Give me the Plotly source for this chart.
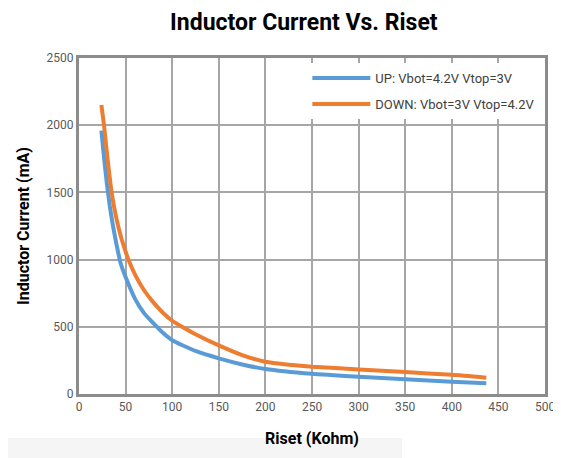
import plotly.graph_objects as go

# Riset (Kohm) and inductor current (mA)
riset_up = [24, 27, 30, 33, 36, 40, 45, 50, 60, 70, 80, 90, 100, 125, 150, 175, 200, 250, 300, 350, 400, 437]
current_up = [1960, 1750, 1560, 1400, 1270, 1120, 965, 870, 710, 600, 525, 455, 400, 320, 265, 220, 186, 150, 128, 109, 92, 80]

riset_down = [24, 27, 30, 35, 40, 45, 50, 53, 60, 70, 80, 90, 100, 112, 125, 150, 175, 200, 225, 250, 300, 350, 400, 437]
current_down = [2150, 1990, 1790, 1500, 1310, 1170, 1060, 1000, 890, 770, 680, 605, 545, 495, 445, 362, 290, 240, 218, 203, 183, 163, 143, 121]

series_names = ["UP: Vbot=4.2V Vtop=3V", "DOWN: Vbot=3V Vtop=4.2V"]
series_colors = ["#5b9bd5", "#ed7d31"]

FONT = "Roboto, Liberation Sans, sans-serif"

fig = go.Figure()
fig.add_trace(go.Scatter(
    x=riset_up, y=current_up, mode="lines", name=series_names[0], legendgroup="up",
    line=dict(color=series_colors[0], width=4, shape="spline", smoothing=0.5)
))
fig.add_trace(go.Scatter(
    x=riset_down, y=current_down, mode="lines", name=series_names[1], legendgroup="down",
    line=dict(color=series_colors[1], width=4, shape="spline", smoothing=0.5)
))

# faint grey band along the bottom edge of the screenshot
fig.add_shape(type="rect", xref="paper", yref="paper",
              x0=-79 / 466, x1=323 / 466, y0=-70 / 336, y1=-44 / 336,
              fillcolor="#f5f5f5", line=dict(width=0), layer="below")

# page body adds 8px, so the figure is 8px smaller than the window
fig.update_layout(
    width=553, height=450,
    margin=dict(l=71, r=16, t=50, b=64),
    paper_bgcolor="white", plot_bgcolor="white",
    font=dict(family=FONT, color="#595959", size=12),
    title=dict(text="<b>Inductor Current Vs. Riset</b>", x=0.535, xanchor="center",
               y=(450 - 14) / 450, yanchor="middle", yref="container",
               font=dict(family=FONT, size=23, color="black")),
    legend=dict(x=0.99, y=0.985, xanchor="right", yanchor="top",
                bgcolor="white", borderwidth=0,
                font=dict(family=FONT, size=13, color="#404040"),
                itemwidth=58, tracegroupgap=6),
    showlegend=True,
)
fig.update_xaxes(
    range=[0, 500], dtick=50, tick0=0,
    showgrid=True, gridcolor="#a6a6a6", gridwidth=1.5,
    showline=True, mirror=True, linecolor="#8c8c8c", linewidth=3,
    ticks="", zeroline=False, automargin=False,
    title=dict(text="<b>Riset (Kohm)</b>", standoff=20,
               font=dict(family=FONT, size=16, color="black")),
)
fig.update_yaxes(
    range=[0, 2500], dtick=500, tick0=0,
    showgrid=True, gridcolor="#a6a6a6", gridwidth=1.5,
    showline=True, mirror=True, linecolor="#8c8c8c", linewidth=3,
    ticks="", zeroline=False, automargin=False,
    title=dict(text="<b>Inductor Current (mA)</b>", standoff=14,
               font=dict(family=FONT, size=16, color="black")),
)

fig.write_html("out.html")
